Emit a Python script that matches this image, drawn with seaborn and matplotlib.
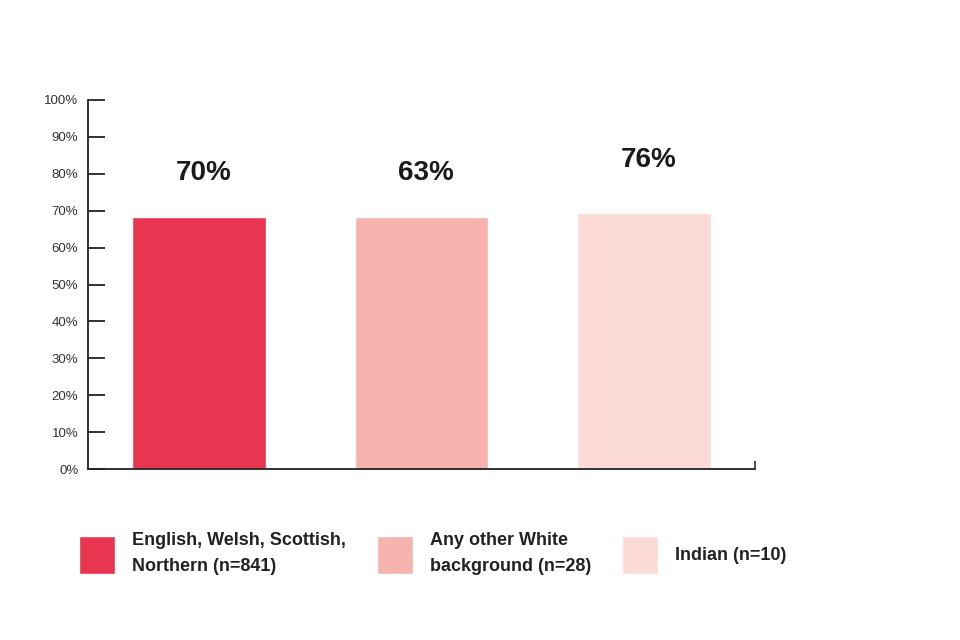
import matplotlib
matplotlib.use("Agg")
import matplotlib.pyplot as plt
import seaborn as sns
import pandas as pd
from matplotlib.ticker import FuncFormatter

categories = ["English, Welsh, Scottish,\nNorthern (n=841)",
              "Any other White\nbackground (n=28)",
              "Indian (n=10)"]
bar_values = [68.3, 68.3, 69.4]
value_labels = ["70%", "63%", "76%"]
label_y = [80.2, 80.2, 83.7]
colors = ["#E83650", "#F7B4AF", "#FCDAD6"]
yticks = [0, 10, 20, 30, 40, 50, 60, 70, 80, 90, 100]

sns.set_style("white")
plt.rcParams["font.family"] = ["Liberation Sans", "DejaVu Sans"]

df = pd.DataFrame({"group": categories, "value": bar_values})

fig = plt.figure(figsize=(9.6, 6.4), dpi=100)
ax = fig.add_axes([88/960, 1 - 469/640, (755 - 88)/960, (469 - 100)/640])

sns.barplot(data=df, x="group", y="value", hue="group", palette=colors,
            order=categories, hue_order=categories, dodge=False, width=0.6,
            saturation=1, legend=True, ax=ax)

ax.set_xlim(-0.5, 2.5)
ax.set_ylim(0, 100)
ax.set_yticks(yticks)
ax.yaxis.set_major_formatter(FuncFormatter(lambda v, p: f"{int(v)}%"))
ax.set_xticks([2.5])
ax.set_xticklabels([""])
ax.tick_params(axis="y", left=True, direction="in", length=12, width=1.3,
               labelsize=9.5, labelcolor="#333333", color="#222222", pad=7)
ax.tick_params(axis="x", bottom=True, direction="in", length=6, width=1.1,
               color="#222222")
ax.set_xlabel("")
ax.set_ylabel("")
for s in ["top", "right"]:
    ax.spines[s].set_visible(False)
for s in ["left", "bottom"]:
    ax.spines[s].set_color("#222222")
    ax.spines[s].set_linewidth(1.3)

for i, (lab, yy) in enumerate(zip(value_labels, label_y)):
    ax.text(i + 0.02, yy, lab, ha="center", va="center", fontsize=20,
            fontweight="bold", color="#1a1a1a")

sns.move_legend(ax, "upper left", bbox_to_anchor=(79/960, 1 - 532/640),
                bbox_transform=fig.transFigure, ncol=3, frameon=False,
                title=None, fontsize=13, handlelength=2.0, handleheight=2.85,
                handletextpad=0.95, columnspacing=1.7, borderpad=0,
                borderaxespad=0)
leg = ax.get_legend()
for t in leg.get_texts():
    t.set_fontweight("bold")
    t.set_color("#222222")
    t.set_linespacing(1.7)

fig.savefig("out.png", dpi=100)
